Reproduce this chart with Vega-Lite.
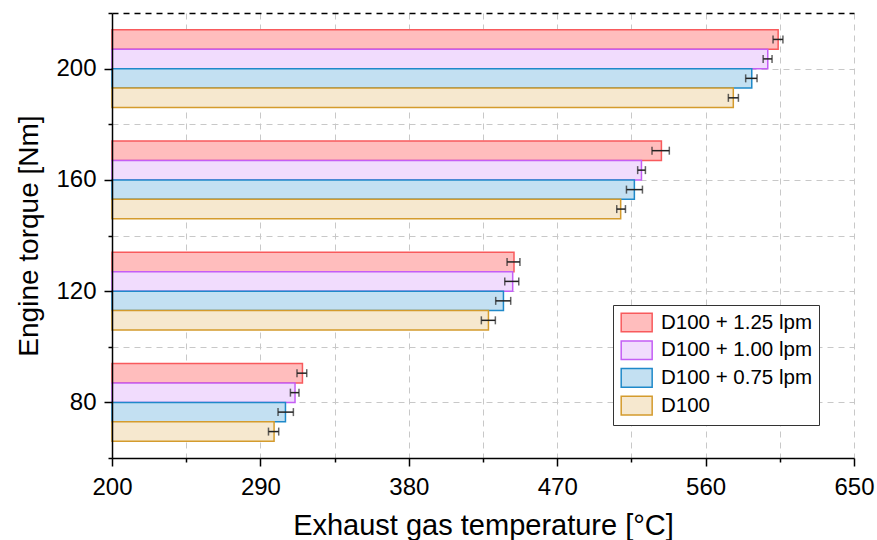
{
  "$schema": "https://vega.github.io/schema/vega-lite/v6.json",
  "width": 742,
  "height": 445,
  "autosize": "none",
  "padding": {"left": 112, "top": 13, "right": 23, "bottom": 82},
  "background": "white",
  "config": {
    "font": "Liberation Sans",
    "view": {"stroke": null},
    "axis": {"labelColor": "black", "titleColor": "black", "titleFontWeight": "normal"}
  },
  "data": {
    "values": [
      {"torque": 200, "series": "D100 + 1.25 lpm", "temp": 604.0, "lo": 600.9, "hi": 606.9},
      {"torque": 200, "series": "D100 + 1.00 lpm", "temp": 597.7, "lo": 594.9, "hi": 600.3},
      {"torque": 200, "series": "D100 + 0.75 lpm", "temp": 588.0, "lo": 584.3, "hi": 591.2},
      {"torque": 200, "series": "D100", "temp": 576.8, "lo": 573.8, "hi": 579.9},
      {"torque": 160, "series": "D100 + 1.25 lpm", "temp": 533.2, "lo": 527.5, "hi": 538.0},
      {"torque": 160, "series": "D100 + 1.00 lpm", "temp": 521.1, "lo": 518.8, "hi": 523.5},
      {"torque": 160, "series": "D100 + 0.75 lpm", "temp": 516.8, "lo": 512.0, "hi": 521.7},
      {"torque": 160, "series": "D100", "temp": 508.5, "lo": 506.1, "hi": 511.4},
      {"torque": 120, "series": "D100 + 1.25 lpm", "temp": 443.8, "lo": 439.6, "hi": 447.4},
      {"torque": 120, "series": "D100 + 1.00 lpm", "temp": 443.0, "lo": 438.2, "hi": 446.7},
      {"torque": 120, "series": "D100 + 0.75 lpm", "temp": 437.4, "lo": 432.7, "hi": 441.8},
      {"torque": 120, "series": "D100", "temp": 428.3, "lo": 424.0, "hi": 432.5},
      {"torque": 80, "series": "D100 + 1.25 lpm", "temp": 315.5, "lo": 312.2, "hi": 318.1},
      {"torque": 80, "series": "D100 + 1.00 lpm", "temp": 311.0, "lo": 308.2, "hi": 313.4},
      {"torque": 80, "series": "D100 + 0.75 lpm", "temp": 305.2, "lo": 300.7, "hi": 310.0},
      {"torque": 80, "series": "D100", "temp": 298.3, "lo": 294.9, "hi": 301.1}
    ]
  },
  "resolve": {"scale": {"y": "independent"}, "axis": {"y": "independent", "x": "independent"}},
  "layer": [
    {
      "mark": {"type": "point", "opacity": 0},
      "encoding": {
        "x": {
          "field": "temp", "type": "quantitative",
          "scale": {"domain": [200, 650], "nice": false, "zero": false},
          "axis": {
            "orient": "bottom",
            "title": null, "labels": false, "ticks": false, "domain": false,
            "values": [200, 245, 290, 335, 380, 425, 470, 515, 560, 605, 650],
            "grid": true, "gridDash": [6, 5], "gridColor": "#c8c8c8", "gridWidth": 1,
            "zindex": 0
          }
        },
        "y": {
          "field": "torque", "type": "quantitative",
          "scale": {"domain": [60, 220], "nice": false, "zero": false},
          "axis": {
            "orient": "left",
            "title": null, "labels": false, "ticks": false, "domain": false,
            "values": [60, 80, 100, 120, 140, 160, 180, 200, 220],
            "grid": true,
            "gridDash": [6, 5],
            "gridColor": {"condition": {"test": "datum.value == 220", "value": "black"}, "value": "#c8c8c8"},
            "gridWidth": {"condition": {"test": "datum.value == 220", "value": 1.5}, "value": 1},
            "zindex": 0
          }
        }
      }
    },
    {
      "layer": [
        {
          "mark": {"type": "bar", "strokeWidth": 1.5, "height": {"band": 1}},
          "encoding": {
            "x": {
              "field": "temp", "type": "quantitative",
              "axis": {
                "orient": "bottom",
                "title": "Exhaust gas temperature [°C]",
                "titleFontSize": 29, "titlePadding": 12,
                "values": [200, 245, 290, 335, 380, 425, 470, 515, 560, 605, 650],
                "labelExpr": "(datum.value - 200) % 90 == 0 ? datum.label : ''",
                "labelFontSize": 24, "labelPadding": 9, "labelFlush": false, "labelOverlap": false,
                "tickSize": {"condition": {"test": "(datum.value - 200) % 90 == 0", "value": 8}, "value": 4},
                "tickColor": "black", "tickWidth": 1.5,
                "domainColor": "black", "domainWidth": 1.5,
                "grid": false,
                "zindex": 1
              }
            },
            "x2": {"datum": 200},
            "y": {
              "field": "torque", "type": "ordinal",
              "scale": {"domain": [200, 160, 120, 80], "paddingInner": 0.3, "paddingOuter": 0.15},
              "axis": {"orient": "right", "title": null, "labels": false, "ticks": false, "grid": false, "domainColor": "black", "domainWidth": 1.5, "zindex": 1}
            },
            "yOffset": {
              "field": "series", "type": "nominal",
              "scale": {"domain": ["D100 + 1.25 lpm", "D100 + 1.00 lpm", "D100 + 0.75 lpm", "D100"], "paddingInner": 0, "paddingOuter": 0}
            },
            "fill": {
              "field": "series", "type": "nominal",
              "scale": {"domain": ["D100 + 1.25 lpm", "D100 + 1.00 lpm", "D100 + 0.75 lpm", "D100"], "range": ["#ffbdbd", "#f1dcfd", "#c3e0f2", "#f6e8cf"]},
              "legend": {
                "orient": "none", "legendX": 501, "legendY": 292, "title": null,
                "strokeColor": "#333", "fillColor": "white", "padding": 7,
                "symbolType": "M-1,-1H2.33V1H-1Z", "symbolSize": 346, "symbolStrokeWidth": 1.5,
                "labelFontSize": 20.5, "labelColor": "black", "labelOffset": 20, "rowPadding": 2.7
              }
            },
            "stroke": {
              "field": "series", "type": "nominal",
              "scale": {"domain": ["D100 + 1.25 lpm", "D100 + 1.00 lpm", "D100 + 0.75 lpm", "D100"], "range": ["#f85a5c", "#c45ef5", "#1f89c9", "#d49b2d"]},
              "legend": {
                "orient": "none", "legendX": 501, "legendY": 292, "title": null,
                "strokeColor": "#333", "fillColor": "white", "padding": 7,
                "symbolType": "M-1,-1H2.33V1H-1Z", "symbolSize": 346, "symbolStrokeWidth": 1.5,
                "labelFontSize": 20.5, "labelColor": "black", "labelOffset": 20, "rowPadding": 2.7
              }
            }
          }
        },
        {
          "mark": {"type": "rule", "color": "#222", "strokeWidth": 1.5},
          "encoding": {
            "x": {"field": "lo", "type": "quantitative"},
            "x2": {"field": "hi"},
            "y": {"field": "torque", "type": "ordinal", "scale": {"domain": [200, 160, 120, 80], "paddingInner": 0.3, "paddingOuter": 0.15}, "axis": null},
            "yOffset": {"field": "series", "type": "nominal", "scale": {"domain": ["D100 + 1.25 lpm", "D100 + 1.00 lpm", "D100 + 0.75 lpm", "D100"], "paddingInner": 0, "paddingOuter": 0}}
          }
        },
        {
          "mark": {"type": "tick", "color": "#222", "thickness": 1.5, "size": 8, "orient": "vertical"},
          "encoding": {
            "x": {"field": "lo", "type": "quantitative"},
            "y": {"field": "torque", "type": "ordinal", "scale": {"domain": [200, 160, 120, 80], "paddingInner": 0.3, "paddingOuter": 0.15}, "axis": null},
            "yOffset": {"field": "series", "type": "nominal", "scale": {"domain": ["D100 + 1.25 lpm", "D100 + 1.00 lpm", "D100 + 0.75 lpm", "D100"], "paddingInner": 0, "paddingOuter": 0}}
          }
        },
        {
          "mark": {"type": "tick", "color": "#222", "thickness": 1.5, "size": 8, "orient": "vertical"},
          "encoding": {
            "x": {"field": "hi", "type": "quantitative"},
            "y": {"field": "torque", "type": "ordinal", "scale": {"domain": [200, 160, 120, 80], "paddingInner": 0.3, "paddingOuter": 0.15}, "axis": null},
            "yOffset": {"field": "series", "type": "nominal", "scale": {"domain": ["D100 + 1.25 lpm", "D100 + 1.00 lpm", "D100 + 0.75 lpm", "D100"], "paddingInner": 0, "paddingOuter": 0}}
          }
        }
      ]
    },
    {
      "mark": {"type": "point", "opacity": 0},
      "encoding": {
        "x": {"field": "temp", "type": "quantitative", "axis": null},
        "y": {
          "field": "torque", "type": "quantitative",
          "scale": {"domain": [60, 220], "nice": false, "zero": false},
          "axis": {
            "orient": "left",
            "title": "Engine torque [Nm]",
            "titleFontSize": 28, "titlePadding": 12,
            "values": [60, 80, 100, 120, 140, 160, 180, 200, 220],
            "labelExpr": "datum.value % 40 == 0 ? datum.label : ''",
            "labelFontSize": 24, "labelPadding": 8, "labelFlush": false, "labelOverlap": false,
            "tickSize": {"condition": {"test": "datum.value % 40 == 0", "value": 8}, "value": 4},
            "tickColor": "black", "tickWidth": 1.5,
            "domainColor": "black", "domainWidth": 1.5,
            "grid": false,
            "zindex": 1
          }
        }
      }
    }
  ]
}
